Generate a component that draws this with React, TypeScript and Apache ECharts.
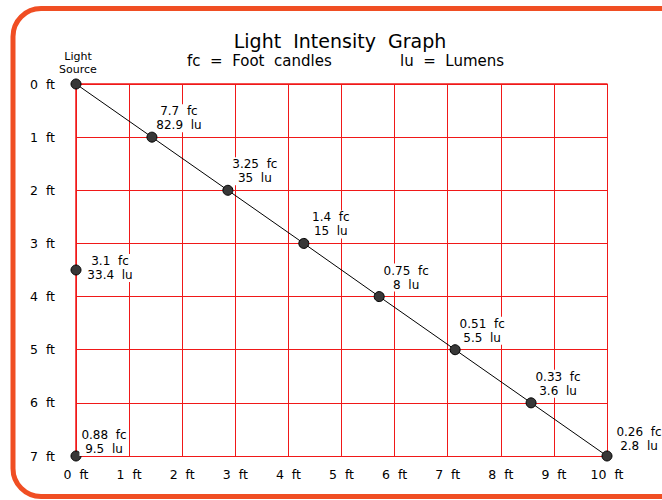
import React, { useEffect, useRef } from "react";
import * as echarts from "echarts";

// Distances along the floor (ft) and down the wall (ft)
const xTicks = [0, 1, 2, 3, 4, 5, 6, 7, 8, 9, 10];
const yTicks = [0, 1, 2, 3, 4, 5, 6, 7];

// Diagonal points (light path)
const diagX = [1.43, 2.86, 4.29, 5.71, 7.14, 8.57, 10];
const diagY = [1, 2, 3, 4, 5, 6, 7];
const diagFc = ["7.7", "3.25", "1.4", "0.75", "0.51", "0.33", "0.26"];
const diagLu = ["82.9", "35", "15", "8", "5.5", "3.6", "2.8"];

// Points on the wall (x = 0)
const wallX = [0, 0];
const wallY = [3.5, 7];
const wallFc = ["3.1", "0.88"];
const wallLu = ["33.4", "9.5"];

const sourceLabel = "Light\nSource";

const FONT = "DejaVu Sans";
const GRID_RED = "#f01818";

export default function App() {
  const ref = useRef<HTMLDivElement>(null);

  useEffect(() => {
    if (!ref.current) return;
    const chart = echarts.init(ref.current, undefined, { renderer: "svg" });

    const baseLabel = {
      show: true,
      position: "inside" as const,
      align: "center" as const,
      verticalAlign: "bottom" as const,
      color: "#000",
      fontFamily: FONT,
      fontSize: 12,
      lineHeight: 14,
      backgroundColor: "#fff",
      padding: [0, 2, 0, 2],
    };

    const diagData: any[] = [
      {
        value: [0, 0],
        label: {
          ...baseLabel,
          formatter: sourceLabel,
          fontSize: 11,
          lineHeight: 13,
          backgroundColor: "transparent",
          offset: [2, -8],
        },
      },
    ];
    diagX.forEach((x, i) => {
      const last = i === diagX.length - 1;
      diagData.push({
        value: [x, diagY[i]],
        label: {
          ...baseLabel,
          formatter: `${diagFc[i]}  fc\n${diagLu[i]}  lu`,
          offset: last ? [32, -3] : [27, -5],
        },
      });
    });

    const wallOffsets = [
      [34, 12],
      [28, 0],
    ];
    const wallData = wallX.map((x, i) => ({
      value: [x, wallY[i]],
      label: {
        ...baseLabel,
        formatter: `${wallFc[i]}  fc\n${wallLu[i]}  lu`,
        offset: wallOffsets[i],
      },
    }));

    const symbolStyle = {
      color: "#383838",
      borderColor: "#000",
      borderWidth: 1,
      opacity: 1,
    };

    chart.setOption({
      animation: false,
      backgroundColor: "#fff",
      textStyle: { fontFamily: FONT },
      grid: { left: 76, top: 84, width: 531, height: 372, containLabel: false },
      xAxis: {
        type: "value",
        min: xTicks[0],
        max: xTicks[xTicks.length - 1],
        interval: 1,
        axisLine: { show: true, lineStyle: { color: GRID_RED, width: 1.5 } },
        axisTick: { show: false },
        splitLine: { show: true, lineStyle: { color: GRID_RED, width: 1 } },
        axisLabel: {
          formatter: "{value}  ft",
          color: "#000",
          fontFamily: FONT,
          fontSize: 12.5,
          margin: 12,
        },
      },
      yAxis: {
        type: "value",
        inverse: true,
        min: yTicks[0],
        max: yTicks[yTicks.length - 1],
        interval: 1,
        axisLine: { show: true, lineStyle: { color: GRID_RED, width: 1.5 } },
        axisTick: { show: false },
        splitLine: { show: true, lineStyle: { color: GRID_RED, width: 1 } },
        axisLabel: {
          formatter: "{value}  ft",
          color: "#000",
          fontFamily: FONT,
          fontSize: 12.5,
          margin: 21,
        },
      },
      series: [
        {
          type: "line",
          data: diagData,
          symbol: "circle",
          symbolSize: 10,
          showAllSymbol: true,
          lineStyle: { color: "#000", width: 1 },
          itemStyle: symbolStyle,
          z: 5,
        },
        {
          type: "scatter",
          data: wallData,
          symbol: "circle",
          symbolSize: 10,
          itemStyle: symbolStyle,
          z: 5,
        },
      ],
      graphic: [
        {
          type: "rect",
          shape: { x: 13, y: 8.5, width: 720, height: 488, r: 28 },
          style: { fill: "none", stroke: "#f04e23", lineWidth: 5 },
          z: 100,
        },
        {
          type: "text",
          x: 340,
          y: 41,
          style: {
            text: "Light  Intensity  Graph",
            fontFamily: FONT,
            fontSize: 19,
            fill: "#000",
            align: "center",
            verticalAlign: "middle",
          },
        },
        {
          type: "text",
          x: 187,
          y: 61,
          style: {
            text: "fc  =  Foot  candles",
            fontFamily: FONT,
            fontSize: 15,
            fill: "#000",
            align: "left",
            verticalAlign: "middle",
          },
        },
        {
          type: "text",
          x: 400,
          y: 61,
          style: {
            text: "lu  =  Lumens",
            fontFamily: FONT,
            fontSize: 15,
            fill: "#000",
            align: "left",
            verticalAlign: "middle",
          },
        },
      ],
    });

    return () => chart.dispose();
  }, []);

  return (
    <div
      ref={ref}
      style={{ position: "fixed", left: 0, top: 0, width: 662, height: 500, background: "#fff" }}
    />
  );
}
